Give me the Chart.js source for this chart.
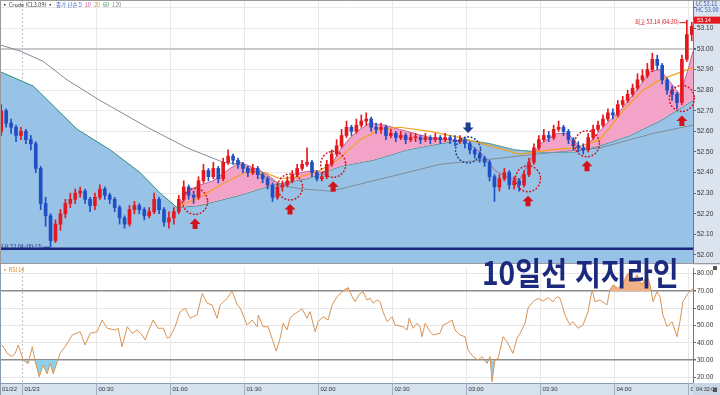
<!DOCTYPE html>
<html lang="ko">
<head>
<meta charset="UTF-8">
<title>Crude 10일선 지지라인</title>
<style>
  html, body { margin: 0; padding: 0; background: #fff; }
  #wrap { position: relative; width: 720px; height: 395px; overflow: hidden; }
  #mainChart { position: absolute; left: 0; top: 0; }
  #rsiChart { position: absolute; left: 0; top: 265px; }
  #caption {
    position: absolute; left: 482px; top: 251px;
    font: bold 32px "Noto Sans CJK KR", sans-serif;
    color: #1b2a7e; white-space: nowrap; line-height: 40px;
    transform: scaleX(0.88); transform-origin: left top;
  }
</style>
</head>
<body>
<div id="wrap">
  <canvas id="mainChart" width="720" height="265"></canvas>
  <canvas id="rsiChart" width="720" height="130"></canvas>
  <div id="caption">10일선 지지라인</div>
</div>

<script src="https://cdn.jsdelivr.net/npm/chart.js"></script>
<script>
// ---- data (minutes from 00:00 of 01/23) ----
const xMin = -9, xMax = 272;
const candleStart = -8.5, candleStep = 2;
const firstOpen = 52.60;

const closes = [
  52.70, 52.64, 52.62, 52.58, 52.60, 52.56, 52.54, 52.42, 52.25, 52.19,
  52.07, 52.15, 52.20, 52.25, 52.27, 52.30, 52.31, 52.27, 52.24, 52.28,
  52.32, 52.29, 52.27, 52.23, 52.18, 52.15, 52.22, 52.24, 52.22, 52.19,
  52.21, 52.27, 52.22, 52.16, 52.18, 52.21, 52.27, 52.33, 52.29, 52.28,
  52.36, 52.41, 52.38, 52.42, 52.37, 52.45, 52.48, 52.46, 52.44, 52.42,
  52.40, 52.42, 52.39, 52.37, 52.34, 52.28, 52.33, 52.34, 52.36, 52.39,
  52.42, 52.44, 52.45, 52.40, 52.37, 52.38, 52.44, 52.49, 52.53, 52.58,
  52.62, 52.60, 52.63, 52.65, 52.66, 52.62, 52.61, 52.62, 52.58, 52.59,
  52.57, 52.58, 52.56, 52.57, 52.57, 52.56, 52.57, 52.56, 52.57, 52.56,
  52.57, 52.56, 52.55, 52.56, 52.54, 52.51, 52.49, 52.47, 52.45, 52.38,
  52.33, 52.37, 52.40, 52.34, 52.36, 52.34, 52.39, 52.45, 52.52, 52.56,
  52.58, 52.57, 52.61, 52.62, 52.60, 52.56, 52.53, 52.52, 52.51, 52.57,
  52.61, 52.63, 52.66, 52.69, 52.68, 52.73, 52.75, 52.78, 52.81, 52.85,
  52.87, 52.90, 52.95, 52.92, 52.85, 52.80, 52.78, 52.74, 52.95, 53.07,
  53.11
];
const highs = [
  52.73, 52.71, 52.66, 52.63, 52.62, 52.61, 52.58, 52.55, 52.43, 52.28,
  52.20, 52.17, 52.22, 52.27, 52.30, 52.32, 52.33, 52.32, 52.28, 52.30,
  52.34, 52.33, 52.30, 52.28, 52.24, 52.19, 52.24, 52.26, 52.25, 52.23,
  52.23, 52.30, 52.28, 52.23, 52.21, 52.23, 52.29, 52.36, 52.34, 52.31,
  52.38, 52.44, 52.42, 52.45, 52.43, 52.47, 52.51, 52.49, 52.47, 52.45,
  52.43, 52.44, 52.43, 52.40, 52.38, 52.35, 52.35, 52.36, 52.38, 52.41,
  52.44, 52.46, 52.52, 52.46, 52.41, 52.40, 52.46, 52.51, 52.56, 52.61,
  52.65, 52.63, 52.66, 52.68, 52.69, 52.67, 52.64, 52.64, 52.63, 52.61,
  52.60, 52.60, 52.59, 52.59, 52.59, 52.58, 52.59, 52.58, 52.59, 52.58,
  52.59, 52.58, 52.58, 52.58, 52.57, 52.55, 52.52, 52.50, 52.48, 52.46,
  52.39, 52.39, 52.42, 52.41, 52.38, 52.37, 52.41, 52.47, 52.54, 52.58,
  52.61, 52.60, 52.63, 52.65, 52.63, 52.61, 52.57, 52.55, 52.54, 52.59,
  52.63, 52.65, 52.68, 52.71, 52.71, 52.75, 52.77, 52.80, 52.83, 52.88,
  52.90, 52.93, 52.98, 52.97, 52.93, 52.86, 52.82, 52.79, 52.97, 53.14,
  53.13
];
const lows = [
  52.58, 52.62, 52.59, 52.55, 52.56, 52.54, 52.51, 52.40, 52.22, 52.14,
  52.04, 52.06, 52.12, 52.18, 52.23, 52.25, 52.28, 52.25, 52.21, 52.22,
  52.27, 52.27, 52.25, 52.21, 52.15, 52.13, 52.14, 52.20, 52.20, 52.17,
  52.18, 52.20, 52.20, 52.14, 52.13, 52.15, 52.20, 52.26, 52.27, 52.25,
  52.27, 52.35, 52.36, 52.37, 52.35, 52.36, 52.44, 52.44, 52.42, 52.40,
  52.38, 52.39, 52.37, 52.35, 52.32, 52.26, 52.27, 52.31, 52.33, 52.35,
  52.38, 52.41, 52.43, 52.38, 52.36, 52.36, 52.37, 52.43, 52.48, 52.52,
  52.57, 52.58, 52.59, 52.62, 52.63, 52.60, 52.59, 52.59, 52.56, 52.57,
  52.55, 52.56, 52.54, 52.55, 52.55, 52.54, 52.55, 52.54, 52.55, 52.54,
  52.55, 52.54, 52.53, 52.54, 52.52, 52.49, 52.47, 52.45, 52.43, 52.36,
  52.26, 52.31, 52.36, 52.32, 52.32, 52.31, 52.33, 52.38, 52.44, 52.51,
  52.55, 52.55, 52.56, 52.60, 52.58, 52.54, 52.51, 52.50, 52.49, 52.50,
  52.56, 52.60, 52.62, 52.65, 52.66, 52.67, 52.72, 52.74, 52.77, 52.80,
  52.84, 52.86, 52.89, 52.90, 52.83, 52.78, 52.75, 52.71, 52.73, 52.94,
  53.04
];

// moving averages
const ma5T = [63.2, 66.9, 72.2, 77.4, 84.3, 88.4, 96.5, 101.7, 105, 108.6, 112.7, 118, 122, 126, 128.9, 133, 137, 141, 147, 153, 165.4, 173.5, 179.6, 185.7, 191.7, 197.8, 201.9, 206, 210, 216.9, 221.4, 224.2, 227.4, 231, 236.3, 242.4, 248.5, 254.6, 258.6, 262.7, 266.7, 270, 272];
const ma5V = [52.23, 52.31, 52.34, 52.36, 52.42, 52.45, 52.41, 52.37, 52.33, 52.35, 52.40, 52.41, 52.40, 52.45, 52.51, 52.57, 52.61, 52.64, 52.63, 52.61, 52.57, 52.56, 52.55, 52.50, 52.41, 52.37, 52.37, 52.46, 52.54, 52.59, 52.59, 52.55, 52.51, 52.56, 52.63, 52.70, 52.79, 52.89, 52.90, 52.84, 52.78, 52.90, 52.99];
const ma20T = [64, 72.2, 80.3, 90.4, 98.5, 104.6, 112.7, 120.8, 128.9, 137, 145, 153, 165.4, 177.5, 189.7, 201.9, 214, 224.2, 234.3, 243.6, 251.7, 258.6, 272];
const ma20V = [52.24, 52.28, 52.34, 52.40, 52.40, 52.37, 52.38, 52.41, 52.47, 52.56, 52.61, 52.62, 52.60, 52.57, 52.53, 52.49, 52.51, 52.52, 52.56, 52.70, 52.80, 52.85, 52.91];
const ma60T = [-9, 4.5, 22.3, 35.7, 47.8, 56, 62.8, 72, 88.4, 101.7, 115.5, 129, 142.3, 156, 169.4, 179.6, 189.7, 199.8, 210, 224, 234.3, 246.5, 258.6, 272];
const ma60V = [52.89, 52.82, 52.61, 52.51, 52.40, 52.30, 52.23, 52.24, 52.29, 52.34, 52.37, 52.43, 52.46, 52.51, 52.54, 52.56, 52.54, 52.51, 52.50, 52.50, 52.53, 52.58, 52.65, 52.75];
const ma120T = [-9, -0.8, 8.5, 18.2, 31.6, 50.7, 66.9, 81.5, 88.4, 101.7, 108.6, 113.9, 124.8, 128.9, 142.3, 156, 169.4, 177.5, 193.8, 208.8, 234.3, 255.8, 272];
const ma120V = [53.02, 52.99, 52.94, 52.85, 52.75, 52.62, 52.52, 52.45, 52.44, 52.36, 52.33, 52.32, 52.31, 52.32, 52.36, 52.40, 52.44, 52.45, 52.47, 52.49, 52.52, 52.59, 52.63];

const supportLevel = 52.03;

// marked touches of the 10-day line (time, price)
const upMarkT = [70.1, 108.6, 126.1, 205.1, 229, 267.5];
const upMarkP = [52.26, 52.33, 52.44, 52.37, 52.54, 52.76];
const downMarkT = [180.8];
const downMarkP = [52.51];

// RSI 14
const rsiT = [-8.1,-6.1,-4.1,-2.8,-1.6,0.4,2.4,4.1,5.3,6.9,8.5,10.1,11.4,12.6,14.2,15.4,17.4,20.3,23.5,25.5,27.6,30.4,32.4,34.5,37.7,38.9,40.5,42.6,44.6,46.6,48.6,49.9,51.1,53.1,55.1,57.2,58.8,60,62,64,66.1,68.1,70.9,73,75,77,79,80.3,83.1,85.1,87.2,88.4,91.2,93.2,95.3,95.7,97.7,99.7,101.3,103,104.6,105.8,107.4,108.6,109.9,113.5,115.5,116.7,118.8,120,122,124,125.7,127.7,130.1,132.1,133.8,135,136.6,138.2,139.8,141.1,142.3,143.9,145.1,146.3,148,150,151.2,154.4,156.1,156.9,158.5,160.1,161.3,162.1,163.4,165.4,166.6,169.4,170.7,172.3,174.3,175.5,177.5,179.6,180.8,182.8,184.8,186.5,188.5,189.7,190.5,191.7,193,195,196.6,199,200.6,201.9,203.9,205.1,207.1,209.2,211.2,213.2,215.2,216.9,218.1,220.1,222.1,223.3,225.4,227.4,229.4,231.1,232.3,234.3,237.1,238.3,239.6,241.6,243.6,245.2,246.5,247.7,249.3,251.3,253.3,254.6,255.8,257.4,258.6,259.8,261.5,263.5,265.5,266.7,267.9,270,272];
const rsiV = [38.7,33.9,32,34,38.7,30,28,37.7,29,20.3,27,22,28,22,29,34,37.7,44.5,46.4,38.7,45.5,46.4,53.2,48.4,47.4,48.4,37.7,49.3,45.5,47.4,44.5,41.6,46.4,53.2,48.4,48.4,42.6,43.5,49.3,58,60,54.2,56.1,68.6,62.9,61.9,54.2,61.9,65.7,70,61.9,60,50.3,53.2,49.3,56.1,49.3,49.3,42.6,35.2,42.6,51.3,47.4,54.2,56.1,59.6,54.2,58,46.4,52.2,55.1,53.2,61.9,66.7,70,72,66.7,63.8,68,69.6,64.8,65.7,62.9,64.8,63.8,58,52.2,55.1,50.3,49.3,47.4,54.2,48.4,51.3,49.3,43.5,51.3,46.4,44.5,45.5,50.3,51.3,53.2,47.4,44.5,43.5,35.8,32,30,32,28,32,17.4,30,31,43.5,40.6,33.9,42.6,45.5,51.3,60,63.8,65.7,64.2,66.1,63.8,66.7,65.7,56.1,50.3,52.2,48.4,50.3,58,70.6,63.8,64.8,61.9,70.6,73.5,71.5,74.4,79.3,81.2,76.4,79.3,73.5,79.3,73.5,63.8,69.6,66.7,56.1,49.3,52.2,43.5,52.2,63.8,68.6,71.5];

// axis ticks
const priceTicks = [52.0, 52.1, 52.2, 52.3, 52.4, 52.5, 52.6, 52.7, 52.8, 52.9, 53.0, 53.1, 53.2];
const rsiTicks = [20, 30, 40, 50, 60, 70, 80];
const timeTicks = [0, 30, 60, 90, 120, 150, 180, 210, 240, 270];
const timeLabels = ['01/23', '00:30', '01:00', '01:30', '02:00', '02:30', '03:00', '03:30', '04:00', '04:30'];
const prevDayLabel = '01/22';
const lastTimeLabel = '04:32:00';
const lowLabel = '최저 52.04 (00:13)';
const highLabel = '최고 53.14 (04:30)';

// ---- derived ----
const candleT = closes.map((c, i) => candleStart + i * candleStep);
const opens = closes.map((c, i) => i === 0 ? firstOpen : closes[i - 1]);
const upColor = '#e3191f', downColor = '#1f4fc3';
const candleColors = closes.map((c, i) => c >= opens[i] ? upColor : downColor);
const pts = (ts, vs) => ts.map((t, i) => ({ x: t, y: vs[i] }));

Chart.defaults.font.family = '"Liberation Sans", Arial, sans-serif';

function noPad(s) { s.paddingTop = 0; s.paddingBottom = 0; s.paddingLeft = 0; s.paddingRight = 0; }

function drawArrow(ctx, cx, tipY, dir, color) {
  const hw = 5.5, hh = 5.5, sw = 2.5, sh = 5;
  ctx.fillStyle = color;
  ctx.beginPath();
  ctx.moveTo(cx, tipY);
  ctx.lineTo(cx + hw, tipY + dir * hh);
  ctx.lineTo(cx + sw, tipY + dir * hh);
  ctx.lineTo(cx + sw, tipY + dir * (hh + sh));
  ctx.lineTo(cx - sw, tipY + dir * (hh + sh));
  ctx.lineTo(cx - sw, tipY + dir * hh);
  ctx.lineTo(cx - hw, tipY + dir * hh);
  ctx.closePath();
  ctx.fill();
}

function dottedRing(ctx, cx, cy, color) {
  ctx.strokeStyle = color;
  ctx.lineWidth = 1.6;
  ctx.lineCap = 'round';
  ctx.setLineDash([0.5, 3]);
  ctx.beginPath();
  ctx.ellipse(cx, cy, 12.5, 13, 0, 0, Math.PI * 2);
  ctx.stroke();
  ctx.setLineDash([]);
}

const mainDecor = {
  id: 'mainDecor',
  beforeDraw(chart) {
    const { ctx, chartArea: a, width, height } = chart;
    ctx.save();
    ctx.fillStyle = '#fff';
    ctx.fillRect(0, 0, width, height);
    ctx.fillStyle = '#dbe4ee';
    ctx.fillRect(a.right, 0, width - a.right, height);
    ctx.restore();
  },
  afterDatasetsDraw(chart) {
    const { ctx, scales: { x, y } } = chart;
    ctx.save();
    upMarkT.forEach((t, i) => {
      const cx = x.getPixelForValue(t), cy = y.getPixelForValue(upMarkP[i]);
      dottedRing(ctx, cx, cy, '#d3121c');
      drawArrow(ctx, cx, cy + 17, 1, '#d3121c');
    });
    downMarkT.forEach((t, i) => {
      const cx = x.getPixelForValue(t), cy = y.getPixelForValue(downMarkP[i]);
      dottedRing(ctx, cx, cy, '#1d3f91');
      drawArrow(ctx, cx, cy - 17, -1, '#1d3f91');
    });

    // low / high labels
    ctx.font = '5.5px "Noto Sans CJK KR"';
    ctx.textBaseline = 'middle';
    const iLow = lows.indexOf(Math.min(...lows));
    const lx = x.getPixelForValue(candleT[iLow]), ly = y.getPixelForValue(lows[iLow]);
    ctx.fillStyle = '#1f2f86'; ctx.strokeStyle = '#1f2f86'; ctx.lineWidth = 1;
    ctx.textAlign = 'right';
    ctx.fillText(lowLabel, lx - 8, ly);
    ctx.beginPath(); ctx.moveTo(lx - 7, ly + 0.5); ctx.lineTo(lx - 1, ly + 0.5); ctx.stroke();

    const iHigh = highs.indexOf(Math.max(...highs));
    const hx = x.getPixelForValue(candleT[iHigh]), hy = y.getPixelForValue(highs[iHigh]);
    ctx.fillStyle = '#d0141c'; ctx.strokeStyle = '#d0141c';
    ctx.fillText(highLabel, hx - 8, hy + 2);
    ctx.beginPath(); ctx.moveTo(hx - 7, hy + 2.5); ctx.lineTo(hx - 1, hy + 2.5); ctx.stroke();
    ctx.restore();
  },
  afterDraw(chart) {
    const { ctx, chartArea: a, width, height, scales: { y } } = chart;
    ctx.save();
    // legend line
    ctx.font = '5.5px "Noto Sans CJK KR"';
    ctx.textBaseline = 'middle';
    ctx.textAlign = 'left';
    const parts = [['▪ Crude (CL3.09) ▪', '#333'], ['종가 단순 5', '#3d6fc1'], ['10', '#cc5c9a'],
                   ['20', '#c9a93a'], ['60', '#3f9a63'], ['120', '#888']];
    let lx = 2;
    parts.forEach(([txt, col]) => {
      ctx.fillStyle = col;
      ctx.fillText(txt, lx, 5);
      lx += ctx.measureText(txt).width + 3;
    });
    // top right info
    ctx.fillStyle = '#3355aa';
    ctx.fillText('LC 53.11', a.right + 3, 4);
    ctx.fillText('HC 53.00', a.right + 3, 10);
    const hv = Math.max(...highs);
    const by = y.getPixelForValue(hv);
    ctx.fillStyle = '#e3191f';
    ctx.fillRect(a.right + 1, by - 3.5, width - a.right - 1, 7);
    ctx.fillStyle = '#fff';
    ctx.font = '5.5px "Liberation Sans"';
    ctx.fillText(hv.toFixed(2), a.right + 4, by + 0.5);
    // frame
    ctx.strokeStyle = '#9a9a9a';
    ctx.lineWidth = 1;
    ctx.beginPath();
    ctx.moveTo(0, 0.5); ctx.lineTo(width, 0.5);
    ctx.moveTo(0.5, 0); ctx.lineTo(0.5, height);
    ctx.moveTo(0, height - 1.5); ctx.lineTo(width, height - 1.5);
    ctx.stroke();
    ctx.restore();
  }
};

const rsiDecor = {
  id: 'rsiDecor',
  beforeDraw(chart) {
    const { ctx, chartArea: a, width, height } = chart;
    ctx.save();
    ctx.fillStyle = '#fff';
    ctx.fillRect(0, 0, width, height);
    ctx.fillStyle = '#d6e1ee';
    ctx.fillRect(0, a.bottom, width, height - a.bottom);
    ctx.restore();
  },
  afterDraw(chart) {
    const { ctx, chartArea: a, width, height, scales: { x } } = chart;
    ctx.save();
    ctx.strokeStyle = '#8a9bb0';
    ctx.lineWidth = 1;
    ctx.beginPath();
    ctx.moveTo(0, a.bottom + 0.5); ctx.lineTo(width, a.bottom + 0.5);
    ctx.moveTo(0.5, 0); ctx.lineTo(0.5, height);
    ctx.stroke();

    ctx.beginPath();
    ctx.rect(0, a.bottom, a.right, height - a.bottom);
    ctx.clip();
    ctx.font = '6px "Liberation Sans"';
    ctx.fillStyle = '#333';
    ctx.textAlign = 'left';
    ctx.textBaseline = 'middle';
    const my = (a.bottom + height) / 2 + 0.5;
    ctx.fillText(prevDayLabel, 2, my);
    timeTicks.forEach((t, i) => {
      const px = Math.round(x.getPixelForValue(t)) + 0.5;
      ctx.strokeStyle = '#9fb0c4';
      ctx.beginPath(); ctx.moveTo(px, a.bottom); ctx.lineTo(px, height); ctx.stroke();
      ctx.fillText(timeLabels[i], px + 2, my);
    });
    ctx.restore();

    ctx.save();
    ctx.fillStyle = '#c9d6e5';
    ctx.fillRect(a.right, a.bottom, width - a.right, height - a.bottom);
    ctx.font = '5.5px "Liberation Sans"';
    ctx.fillStyle = '#333';
    ctx.textBaseline = 'middle';
    ctx.fillText(lastTimeLabel, a.right + 3, (a.bottom + height) / 2 + 0.5);
    ctx.font = '5.5px "Noto Sans CJK KR"';
    ctx.fillStyle = '#e08a30';
    ctx.fillText('▪ RSI 14', 2, 5);
    ctx.fillStyle = '#555';
    ctx.fillRect(width - 7, 1, 4, 4);
    ctx.fillRect(width - 7, height - 7, 4, 4);
    ctx.restore();
  }
};

const timeGrid = {
  color: c => (c.tick && c.tick.value === 0) ? '#bdbdbd' : '#e8e8e8',
  drawTicks: false, offset: false
};

// ---- price chart ----
new Chart(document.getElementById('mainChart'), {
  type: 'bar',
  data: {
    datasets: [
      { type: 'bar', label: 'wick', data: candleT.map((t, i) => ({ x: t, y: [lows[i], highs[i]] })),
        backgroundColor: candleColors, barThickness: 1, grouped: false, order: 1 },
      { type: 'bar', label: 'body', data: candleT.map((t, i) => ({ x: t, y: [opens[i], closes[i]] })),
        backgroundColor: candleColors, barThickness: 3, minBarLength: 1, grouped: false, order: 0 },
      { type: 'line', label: 'MA5', data: pts(ma5T, ma5V), borderColor: '#b54a86', borderWidth: 0.8,
        pointRadius: 0, fill: { target: 5, above: '#f3a3c8', below: 'transparent' }, order: 4 },
      { type: 'line', label: 'MA20', data: pts(ma20T, ma20V), borderColor: '#f2a01e', borderWidth: 1.2,
        pointRadius: 0, fill: false, order: 3 },
      { type: 'line', label: 'MA120', data: pts(ma120T, ma120V), borderColor: '#808c98', borderWidth: 1,
        pointRadius: 0, fill: false, order: 3 },
      { type: 'line', label: 'MA60', data: pts(ma60T, ma60V), borderColor: '#2f8c80', borderWidth: 1,
        pointRadius: 0, fill: 'start', backgroundColor: '#98c3e7', order: 6 },
      { type: 'line', label: 'support', data: [{ x: xMin, y: supportLevel }, { x: xMax, y: supportLevel }],
        borderColor: '#1a237e', borderWidth: 2.5, pointRadius: 0, fill: false, order: 2 }
    ]
  },
  options: {
    responsive: false,
    animation: false,
    events: [],
    layout: { padding: { top: 1, left: 0, right: 0, bottom: 0 } },
    plugins: { legend: { display: false }, tooltip: { enabled: false } },
    scales: {
      x: {
        type: 'linear', min: xMin, max: xMax, offset: false,
        afterBuildTicks: s => { s.ticks = timeTicks.map(v => ({ value: v })); },
        ticks: { display: false },
        grid: timeGrid,
        border: { display: false, dash: c => (c.tick && c.tick.value === 0) ? [2, 2] : [] },
        afterFit: s => { s.height = 2; noPad(s); }
      },
      y: {
        position: 'right', min: 51.961, max: 53.233,
        afterBuildTicks: s => { s.ticks = priceTicks.map(v => ({ value: v })); },
        ticks: {
          font: { size: 6.5 }, color: '#333', padding: 1,
          callback: v => v > 53.15 ? '' : v.toFixed(2)
        },
        grid: {
          color: c => (c.tick && Math.abs(c.tick.value - 53) < 1e-6) ? '#c9c9c9' : '#e8e8e8',
          lineWidth: c => (c.tick && Math.abs(c.tick.value - 53) < 1e-6) ? 2 : 1,
          tickLength: 3, tickColor: '#666'
        },
        border: { display: true, color: '#777', dash: c => c.type === 'scale' ? [1, 2] : [] },
        afterFit: s => { s.width = 27; noPad(s); }
      }
    }
  },
  plugins: [mainDecor]
});

// ---- RSI chart ----
new Chart(document.getElementById('rsiChart'), {
  type: 'line',
  data: {
    datasets: [
      { label: 'RSI 14', data: pts(rsiT, rsiV), borderColor: '#d99456', borderWidth: 1, pointRadius: 0,
        fill: { target: { value: 70 }, above: '#f3b285', below: 'transparent' }, order: 0 },
      { label: 'RSI low', data: pts(rsiT, rsiV), borderWidth: 0, pointRadius: 0,
        fill: { target: { value: 30 }, above: 'transparent', below: '#8fcfe8' }, order: 1 }
    ]
  },
  options: {
    responsive: false,
    animation: false,
    events: [],
    layout: { padding: { top: 3, left: 0, right: 0, bottom: 0 } },
    plugins: { legend: { display: false }, tooltip: { enabled: false } },
    scales: {
      x: {
        type: 'linear', min: xMin, max: xMax, offset: false,
        afterBuildTicks: s => { s.ticks = timeTicks.map(v => ({ value: v })); },
        ticks: { display: false },
        grid: timeGrid,
        border: { display: false, dash: c => (c.tick && c.tick.value === 0) ? [2, 2] : [] },
        afterFit: s => { s.height = 12; noPad(s); }
      },
      y: {
        position: 'right', min: 16.7, max: 83.3,
        afterBuildTicks: s => { s.ticks = rsiTicks.map(v => ({ value: v })); },
        ticks: { font: { size: 6.5 }, color: '#333', padding: 1, callback: v => v.toFixed(2) },
        grid: {
          color: c => (c.tick && (c.tick.value === 70 || c.tick.value === 30)) ? '#8c8c8c' : '#e6e6e6',
          lineWidth: c => (c.tick && (c.tick.value === 70 || c.tick.value === 30)) ? 1.5 : 1,
          tickLength: 3, tickColor: '#666'
        },
        border: { display: true, color: '#777', dash: c => c.type === 'scale' ? [1, 2] : [] },
        afterFit: s => { s.width = 27; noPad(s); }
      }
    }
  },
  plugins: [rsiDecor]
});
</script>
</body>
</html>
